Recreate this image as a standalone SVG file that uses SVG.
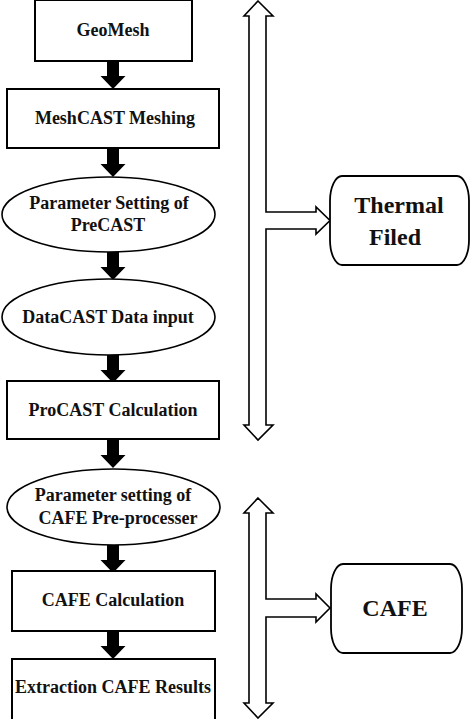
<svg xmlns="http://www.w3.org/2000/svg" width="474" height="719" viewBox="0 0 474 719">
<style>
.box{fill:#fff;stroke:#000;stroke-width:2}
.ell{fill:#fff;stroke:#000;stroke-width:1.6}
.term{fill:#fff;stroke:#000;stroke-width:1.8}
text{font-family:'Liberation Serif','Times New Roman',Times,'DejaVu Serif',serif;font-weight:700;text-anchor:middle;fill:#111}
.t{font-size:18px}
.tb{font-size:24px}
.dbl{fill:#fff;stroke:#000;stroke-width:1.6;stroke-linejoin:miter}
.blk{fill:#000}
</style>
<defs>
<path id="blkArrow" d="M-6,0 H6 V15 H12.5 L0,28 L-12.5,15 H-6 Z"/>
</defs>
<rect width="474" height="719" fill="#fff"/>
<g id="connectors">
<use href="#blkArrow" class="blk" x="113" y="61"/>
<use href="#blkArrow" class="blk" x="113" y="149"/>
<use href="#blkArrow" class="blk" x="113" y="252"/>
<use href="#blkArrow" class="blk" x="113" y="355"/>
<use href="#blkArrow" class="blk" x="113" y="440"/>
<use href="#blkArrow" class="blk" x="113" y="545"/>
<use href="#blkArrow" class="blk" x="113" y="631"/>
<path class="dbl" d="M258,1 L273,16 H266 V212 H316 V207 L330,220.5 L316,234 V229 H266 V425 H273 L258,440 L244,425 H249 V16 H244 Z"/>
<path class="dbl" d="M258,498 L273,513 H266 V599 H316 V594 L330,608 L316,622 V617 H266 V703 H273 L258,718 L244,703 H249 V513 H244 Z"/>
</g>
<g id="geomesh">
<rect class="box" x="35" y="0" width="157" height="61"/>
<text class="t" x="113" y="36" font-family="Liberation Serif, serif">GeoMesh</text>
</g>
<g id="meshcast">
<rect class="box" x="7" y="89" width="212" height="59"/>
<text class="t" x="115" y="124">MeshCAST Meshing</text>
</g>
<g id="param-precast">
<ellipse class="ell" cx="108.5" cy="214.5" rx="106.5" ry="37.5"/>
<text class="t" x="109" y="209">Parameter Setting of</text>
<text class="t" x="108" y="231">PreCAST</text>
</g>
<g id="datacast">
<ellipse class="ell" cx="108.5" cy="317" rx="106.5" ry="38"/>
<text class="t" x="108" y="323">DataCAST Data input</text>
</g>
<g id="procast">
<rect class="box" x="7" y="381" width="212" height="58"/>
<text class="t" x="113" y="416">ProCAST Calculation</text>
</g>
<g id="param-cafe">
<ellipse class="ell" cx="113.5" cy="507" rx="106.5" ry="38"/>
<text class="t" x="113" y="501">Parameter setting of</text>
<text class="t" x="118" y="524">CAFE Pre-processer</text>
</g>
<g id="cafe-calc">
<rect class="box" x="12" y="571" width="203" height="60"/>
<text class="t" x="113" y="606">CAFE Calculation</text>
</g>
<g id="extraction">
<rect class="box" x="12" y="659" width="203" height="62"/>
<text class="t" x="113" y="693">Extraction CAFE Results</text>
</g>
<g id="thermal">
<rect class="term" x="330" y="176" width="139" height="89" rx="12" ry="25"/>
<text class="tb" x="399" y="213">Thermal</text>
<text class="tb" x="395" y="245">Filed</text>
</g>
<g id="cafe">
<rect class="term" x="331" y="564" width="131" height="89" rx="12" ry="25"/>
<text class="tb" x="395" y="616">CAFE</text>
</g>
</svg>
